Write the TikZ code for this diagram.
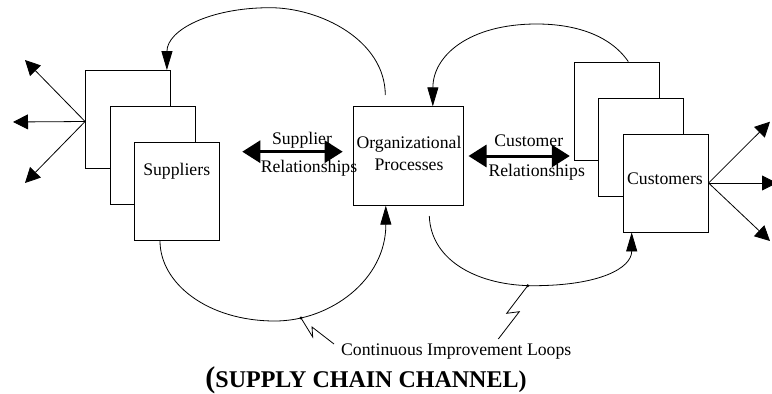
\documentclass[tikz,border=0pt]{standalone}
\usepackage{fontspec}
\setmainfont{Liberation Serif}
\usetikzlibrary{arrows.meta,calc}

\begin{document}
\begin{tikzpicture}[
  x=1pt,
  y=-1pt,
  line width=0.8pt,
  font=\fontsize{17.7}{21}\selectfont,
  page/.style={draw, fill=white, inner sep=0pt,
    minimum width=85pt, minimum height=98pt},
  procbox/.style={draw, inner sep=0pt,
    minimum width=110pt, minimum height=98.5pt},
  txt/.style={anchor=base, inner sep=0pt},
  loop/.style={-{Triangle[length=19pt,width=11pt]}},
  fan/.style={-{Triangle[length=15pt,width=15pt]}},
  rel/.style={
    {Triangle[length=18pt,width=22pt]}-{Triangle[length=18pt,width=22pt]},
    line width=3pt,
  },
]
  \useasboundingbox (0,0) rectangle (772,394);
  \foreach \i/\dx/\dy in {1/0/0, 2/24.5/36, 3/49/72} {
    \node[page] (s\i) at (128+\dx, 119.5+\dy) {};
    \node[page] (c\i) at (616.7+\dx, 111+\dy) {};
  }
  \node[procbox] (org) at (408.8,156) {};
  \node[txt] (suplab) at (176.7,175) {Suppliers};
  \node[txt] (cuslab) at (665,184) {Customers};
  \node[txt] (orglabA) at (409,148) {Organizational};
  \node[txt] (orglabB) at (409,170) {Processes};

  \draw[rel, shorten <=22.4pt, shorten >=10.7pt]
    ($(s3.east |- org.west)+(0,-4.3)$) -- ($(org.west)+(0,-4.3)$);
  \draw[rel, shorten <=4.3pt, shorten >=4pt]
    (org.east) -- (org.east -| c1.west);
  \node[txt] (suprelA) at (302,144) {Supplier};
  \node[txt] (suprelB) at (309,172.7) {Relationships};
  \node[txt] (cusrelA) at (528.8,146) {Customer};
  \node[txt] (cusrelB) at (536.7,176) {Relationships};

  \foreach \n/\tx/\ty in {1/25/60, 2/13/122, 3/25/183} {
    \coordinate (sf\n) at (\tx,\ty);
    \draw[fan] ($(s1.west)+(0,2)$) -- (sf\n);
  }
  \foreach \n/\tx/\ty in {1/770/121.7, 2/777/183, 3/770/241} {
    \coordinate (cf\n) at (\tx,\ty);
    \draw[fan] (c3.east) -- (cf\n);
  }

  \coordinate (tlstart) at (385.3,95);
  \coordinate (brstart) at (429.3,216);
  \draw[loop] (tlstart)
    .. controls (385,40) and (320,7.7) .. (270,7.7)
    .. controls (210,7.7) and (167,30) .. ($(s1.north east)+(-4,0)$);
  \draw[loop] ($(c1.north)+(11.6,0)$)
    .. controls (610,35) and (575,24) .. (536.7,24)
    .. controls (470,24) and (433,55) .. ($(org.north)+(24,0)$);
  \draw[loop] ($(s3.south)+(-17,0)$)
    .. controls (160,283) and (207,321) .. (275,321)
    .. controls (330,321) and (386,280) .. ($(org.south)+(-23,0)$);
  \draw[loop] (brstart)
    .. controls (431,262) and (480,285.7) .. (533,285.7)
    .. controls (600,285.7) and (631.7,268) .. ($(c3.south)+(-34,0)$);

  \coordinate (boltA) at (301,318);
  \coordinate (boltB) at (527.7,285.7);
  \fill (boltA) circle (1.6);
  \fill (boltB) circle (1.6);
  \node[txt] (loops) at (456.2,355) {Continuous Improvement Loops};
  \draw (boltA) -- (312.7,337) -- (312,327) -- (334,344);
  \draw (boltB) -- (506.7,313.3) -- (519.3,311.7) -- (498.3,339);

  \node[txt, font=\fontsize{24}{28}\bfseries] (title) at (366,387.3)
    {{\fontsize{30}{30}\selectfont(}SUPPLY CHAIN CHANNEL)};
\end{tikzpicture}
\end{document}
